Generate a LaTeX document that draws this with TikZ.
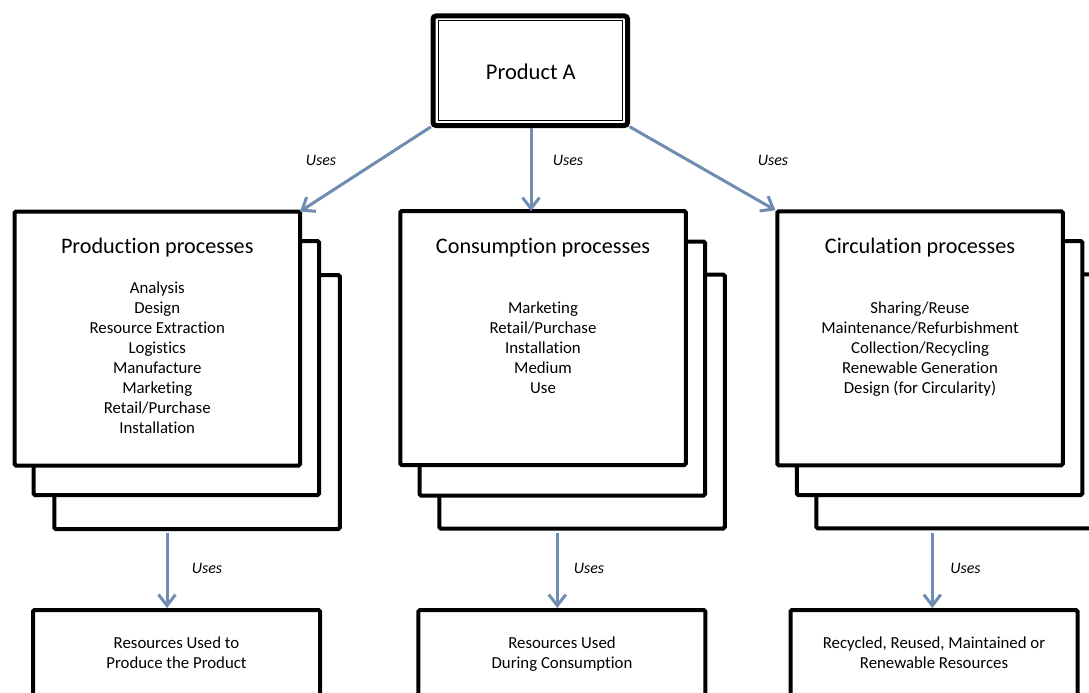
\documentclass[tikz,border=0pt]{standalone}
\usepackage{fontspec}
\setmainfont{Carlito}[Ligatures={NoCommon}]
\usetikzlibrary{arrows.meta}
\definecolor{arrowblue}{RGB}{111,141,176}
\begin{document}
\begin{tikzpicture}[x=1pt,y=-1pt,
  box/.style={draw=black, line width=4pt, fill=white, rounded corners=1.5pt, outer sep=0pt, inner sep=0pt},
  stackbox/.style={box, minimum width=285.5pt, minimum height=254pt},
  resbox/.style={box, minimum width=287pt, minimum height=130pt},
  title/.style={font=\fontsize{22.2}{26}\selectfont, anchor=base, inner sep=0pt},
  list/.style={font=\fontsize{16.8}{20}\selectfont, align=center, inner sep=0pt, execute at begin node=\strut, execute at end node=\strut},
  uses/.style={font=\fontsize{16}{18}\selectfont\itshape, anchor=base, inner sep=0pt},
  arr/.style={draw=arrowblue, line width=3pt, -{Straight Barb[length=11pt,width=17pt]}},
]
\useasboundingbox (0,0) rectangle (1089,693);
\begin{scope}
\clip (0,0) rectangle (1089,693);
% background
\fill[white] (0,0) rectangle (1089,693);
% Product A
\node[box, line width=5pt, rounded corners=3pt, minimum width=194.5pt, minimum height=109.5pt] (prodA) at (530.25,70.75) {};
\draw[line width=1pt] ([shift={(5pt,-5pt)}]prodA.north west) rectangle ([shift={(-5pt,5pt)}]prodA.south east);
\node[title, font=\fontsize{22.5}{27}\selectfont] (prodAt) at (530.8,80) {Product A};

% Production stack
\node[stackbox] (prod3) at (197,402) {};
\node[stackbox] (prod2) at (176.25,368) {};
\node[stackbox] (prod) at (157.25,338.5) {};
\node[title] (prodT) at (157.25,253.3) {Production processes};
\node[list] (prodL) at (157.25,360.3) {Analysis\\Design\\Resource Extraction\\Logistics\\Manufacture\\Marketing\\Retail/Purchase\\Installation};

% Consumption stack
\node[stackbox] (cons3) at (582,401.5) {};
\node[stackbox] (cons2) at (562.3,368.5) {};
\node[stackbox] (cons) at (543,338) {};
\node[title] (consT) at (543,253.3) {Consumption processes};
\node[list] (consL) at (543,350.3) {Marketing\\Retail/Purchase\\Installation\\Medium\\Use};

% Circulation stack
\node[stackbox] (circ3) at (959,401.25) {};
\node[stackbox] (circ2) at (939.5,368) {};
\node[stackbox] (circ) at (920,338.25) {};
\node[title] (circT) at (920,253.3) {Circulation processes};
\node[list] (circL) at (920,350.3) {Sharing/Reuse\\Maintenance/Refurbishment\\Collection/Recycling\\Renewable Generation\\Design (for Circularity)};

% Resource boxes
\node[resbox] (res1) at (176.5,675) {};
\node[resbox] (res2) at (561.85,675) {};
\node[resbox] (res3) at (934,675) {};
\node[list] (res1t) at (176.5,655.5) {Resources Used to\\Produce the Product};
\node[list] (res2t) at (562,655.5) {Resources Used\\During Consumption};
\node[list] (res3t) at (934,655.5) {Recycled, Reused, Maintained or\\Renewable Resources};

% Upper arrows
\coordinate (mtop) at (531,128);
\draw[arr, shorten <=2.5pt] (prodA.south west) -- (prod.north east);
\draw[arr] (mtop) -- (mtop |- cons.north);
\draw[arr, shorten <=2.5pt, shorten >=2pt] (prodA.south east) -- (circ.north west);
\node[uses] (u1) at (321,165) {Uses};
\node[uses] (u2) at (568,165) {Uses};
\node[uses] (u3) at (773,165) {Uses};

% Lower arrows
\coordinate (d1) at (167,533);
\coordinate (d2) at (557.3,533);
\coordinate (d3) at (932.3,533);
\draw[arr, shorten >=2pt] (d1) -- (d1 |- res1.north);
\draw[arr, shorten >=2pt] (d2) -- (d2 |- res2.north);
\draw[arr, shorten >=2pt] (d3) -- (d3 |- res3.north);
\node[uses] (u4) at (207,573.3) {Uses};
\node[uses] (u5) at (589,573.3) {Uses};
\node[uses] (u6) at (965.5,573.3) {Uses};
\end{scope}
\end{tikzpicture}
\end{document}
